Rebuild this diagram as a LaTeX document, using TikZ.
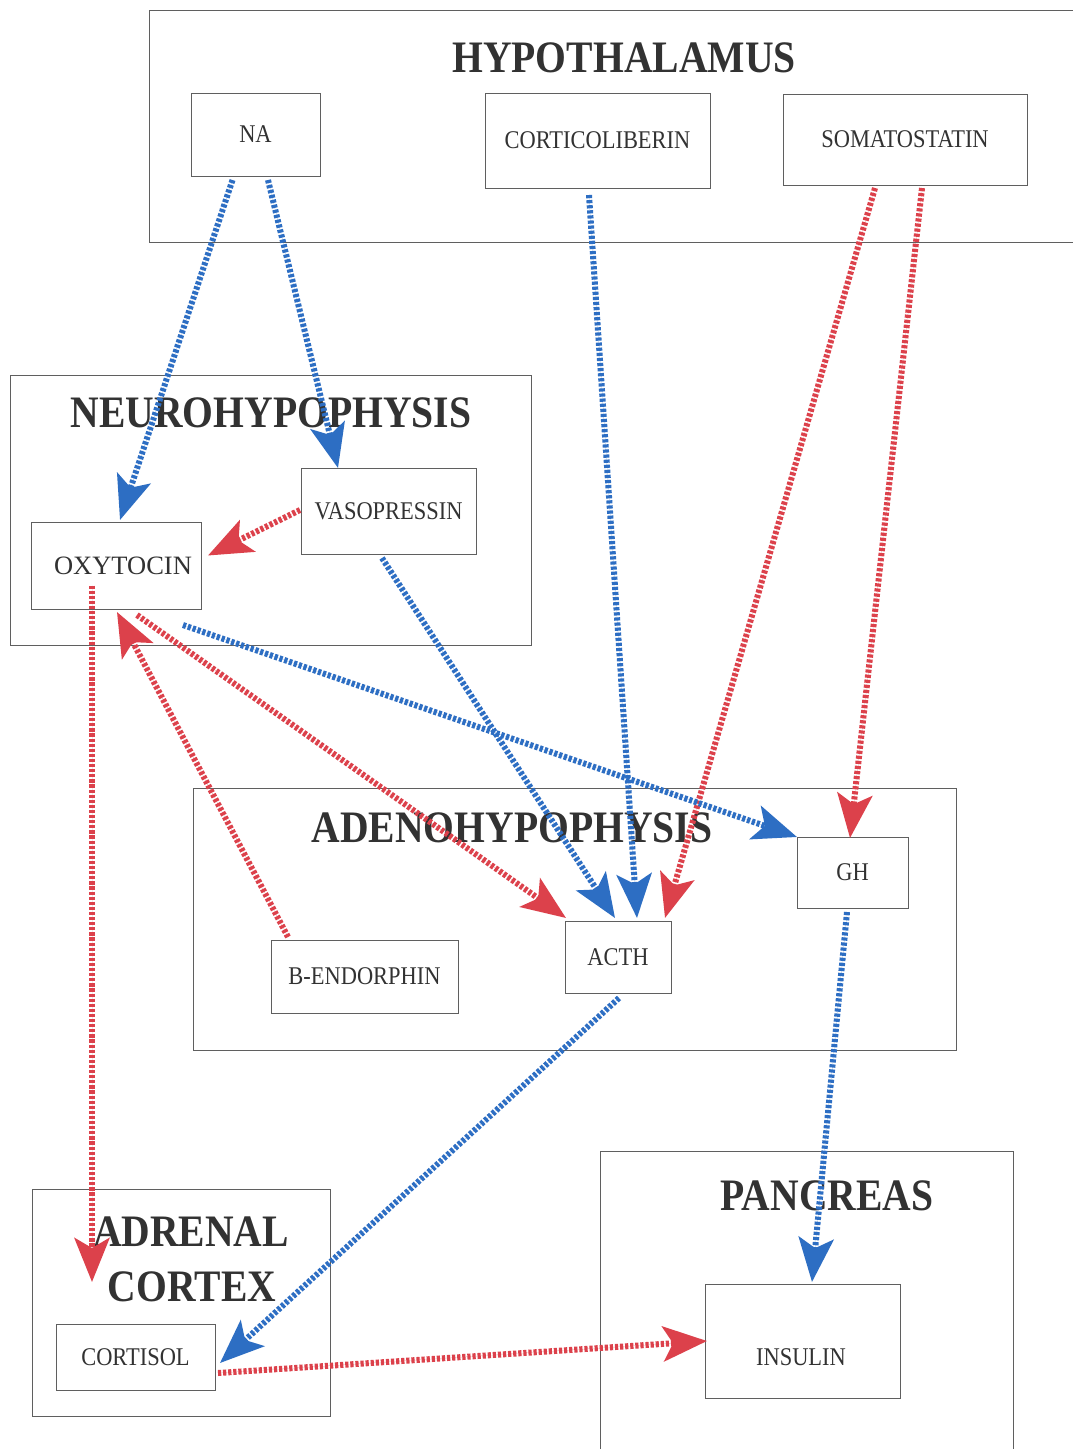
\documentclass[tikz,border=0pt]{standalone}
\usepackage{fontspec}
\setmainfont{Liberation Serif}
\newfontfamily\condfont[FakeStretch=0.88]{Liberation Serif}
\usetikzlibrary{arrows.meta,calc}
\definecolor{arrblue}{RGB}{45,110,195}
\definecolor{arrred}{RGB}{220,65,75}
\definecolor{boxgray}{RGB}{95,95,95}
\definecolor{txtgray}{RGB}{50,50,50}
\begin{document}
\begin{tikzpicture}[x=1pt,y=-1pt,
  region/.style={draw=boxgray,line width=1pt,inner sep=0pt,outer sep=0pt},
  hbox/.style={draw=boxgray,line width=1pt,inner sep=0pt,outer sep=0pt,text=txtgray,
     font=\condfont\fontsize{25.5}{25.5}\selectfont},
  title/.style={inner sep=0pt,text=txtgray,font=\condfont\bfseries\fontsize{45}{45}\selectfont},
  link/.style={line width=6pt,dash pattern=on 3.2pt off 1.9pt,
     -{Stealth[length=44pt,width=35pt,inset=10pt]}},
  bl/.style={link,draw=arrblue,fill=arrblue},
  rd/.style={link,draw=arrred,fill=arrred}]
\useasboundingbox[fill=white] (0,0) rectangle (1072,1449);

% regions
\node[region,minimum width=931pt,minimum height=232pt] (hypo) at (614.5,126) {};
\node[title] (hypot) at (624,58) {HYPOTHALAMUS};
\node[region,minimum width=521pt,minimum height=270pt] (neuro) at (270.5,510) {};
\node[title] (neurot) at (271,413) {NEUROHYPOPHYSIS};
\node[region,minimum width=763pt,minimum height=262pt] (adeno) at (574.5,919) {};
\node[title] (adenot) at (512,828) {ADENOHYPOPHYSIS};
\node[region,minimum width=298pt,minimum height=227pt] (adrenal) at (181,1302.5) {};
\node[title] (adrenalt1) at (191,1232) {ADRENAL};
\node[title] (adrenalt2) at (192,1287) {CORTEX};
\node[region,minimum width=413pt,minimum height=320pt] (pancreas) at (806.5,1311) {};
\node[title] (pancreast) at (827,1196) {PANCREAS};

% hormones
\node[hbox,minimum width=129pt,minimum height=83pt] (na) at (255.5,134.5) {NA};
\node[hbox,minimum width=225pt,minimum height=95pt] (cortico) at (597.5,140.5) {CORTICOLIBERIN};
\node[hbox,minimum width=244pt,minimum height=91pt] (somato) at (905,139.5) {SOMATOSTATIN};
\node[hbox,minimum width=175pt,minimum height=86pt] (vaso) at (388.5,511) {VASOPRESSIN};
\node[hbox,minimum width=170pt,minimum height=87pt,font=\fontsize{26.5}{26.5}\selectfont] (oxy) at (116,565.5) {\hspace*{14pt}OXYTOCIN};
\node[hbox,minimum width=111pt,minimum height=71pt] (gh) at (852.5,872.5) {GH};
\node[hbox,minimum width=106pt,minimum height=72pt] (acth) at (618,957) {ACTH};
\node[hbox,minimum width=187pt,minimum height=73pt] (bendo) at (364.5,976.5) {B-ENDORPHIN};
\node[hbox,minimum width=159pt,minimum height=66pt] (cortisol) at (135.5,1357) {CORTISOL};
\node[hbox,minimum width=195pt,minimum height=114pt] (insulin) at (802.5,1341) {};
\node[inner sep=0pt,text=txtgray,font=\condfont\fontsize{25.5}{25.5}\selectfont] (insulint) at (801,1357) {INSULIN};

% connectors
\draw[bl] ($(na.south)+(-23,4)$) -- ($(oxy.north)+(4,-2)$);
\draw[bl] ($(na.south)+(12.5,4)$) -- ($(vaso.north)+(-50.5,0)$);
\draw[bl] ($(cortico.south)+(-8.5,7)$) -- ($(acth.north)+(19,-3)$);
\draw[rd] ($(somato.south)+(-30,3)$) -- ($(acth.north)+(47,-3)$);
\draw[rd] ($(somato.south)+(17,3)$) -- ($(gh.north)+(-2.5,1)$);
\draw[rd] ($(vaso.west)+(-1,-1)$) -- ($(oxy.east)+(7,-10)$);
\draw[bl] ($(vaso.south)+(-6.5,4)$) -- ($(acth.north)+(-3,-3)$);
\draw[bl] ($(oxy.south)+(67,16)$) -- ($(gh.west)+(0,-35.5)$);
\draw[rd] ($(oxy.south)+(21,6)$) -- ($(acth.north west)+(1,-3)$);
\draw[rd] ($(bendo.north west)+(17,-3)$) -- ($(oxy.south)+(1,3)$);
\draw[rd] ($(oxy.center)+(-24,20)$) -- ($(adrenal.west)+(60,-20.5)$);
\draw[bl] ($(acth.south)+(1,5)$) -- ($(cortisol.east)+(5,6)$);
\draw[bl] ($(gh.south)+(-5.5,4)$) -- ($(insulin.north)+(9.5,-2)$);
\draw[rd] ($(cortisol.east)+(3,16)$) -- ($(insulin.west)+(2,0)$);
\end{tikzpicture}
\end{document}
